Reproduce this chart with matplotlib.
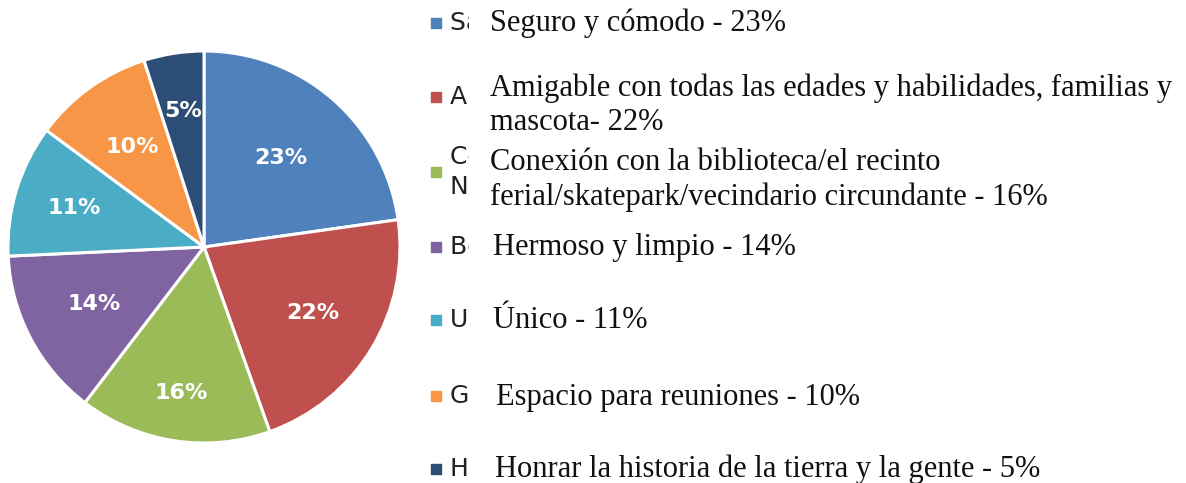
import numpy as np
import matplotlib
matplotlib.use("Agg")
import matplotlib.pyplot as plt
from matplotlib.patches import Rectangle

# データ
values = [23, 22, 16, 14, 11, 10, 5]
pct_labels = ["23%", "22%", "16%", "14%", "11%", "10%", "5%"]
colors = ["#4F81BD", "#C0504D", "#9BBB59", "#8064A2", "#4BACC6", "#F79646", "#2C4D75"]
# 元の英語ラベル（大部分が隠れている）
orig_labels = ["Safe and comfortable",
               "All ages and abilities",
               "Connection to library\nNeighborhood",
               "Beautiful and clean",
               "Unique",
               "Gathering space",
               "Honoring the history"]
# スペイン語ラベル
es_labels = ["Seguro y cómodo - 23%",
             "Amigable con todas las edades y habilidades, familias y\nmascota- 22%",
             "Conexión con la biblioteca/el recinto\nferial/skatepark/vecindario circundante - 16%",
             "Hermoso y limpio - 14%",
             "Único - 11%",
             "Espacio para reuniones - 10%",
             "Honrar la historia de la tierra y la gente - 5%"]

W, H = 1186, 483
fig = plt.figure(figsize=(W / 100, H / 100), dpi=100)

# 円グラフ
ax = fig.add_axes([8 / W, 39 / H, 392 / W, 394 / H])
wedges, _ = ax.pie(values, colors=colors, startangle=90, counterclock=False,
                   wedgeprops=dict(edgecolor="white", linewidth=2.2))
ax.set_xlim(-1, 1)
ax.set_ylim(-1, 1)
ax.set_aspect("equal")
ax.axis("off")

# ラベル位置（中心からの距離）
label_dist = [0.6, 0.65, 0.755, 0.63, 0.69, 0.63, 0.7]
for w, lab, d in zip(wedges, pct_labels, label_dist):
    ang = np.deg2rad((w.theta1 + w.theta2) / 2)
    ax.text(d * np.cos(ang), d * np.sin(ang), lab, ha="center", va="center",
            color="white", fontsize=16, fontweight="bold", family="DejaVu Sans")

# 凡例（ピクセル座標のオーバーレイ）
lx = fig.add_axes([0, 0, 1, 1])
lx.set_xlim(0, W)
lx.set_ylim(H, 0)
lx.axis("off")

row_y = [23, 97, 172, 247, 320, 396, 469]
es_y = [23, 105, 180, 247, 321, 397, 469]
es_x = [490, 490, 490, 493, 493, 496, 495]

lx.scatter([436] * len(row_y), row_y, marker="s", s=52, c=colors, zorder=1)
for y, lab in zip(row_y, orig_labels):
    lx.text(450, y, lab, ha="left", va="center", fontsize=18,
            family="DejaVu Sans", color="#222222", zorder=1, linespacing=1.3)
lx.add_patch(Rectangle((469, 0), W - 469, H, facecolor="white",
                       edgecolor="none", zorder=2))
for x, y, lab in zip(es_x, es_y, es_labels):
    lx.text(x, y, lab, ha="left", va="center", fontsize=22,
            family="Liberation Serif", color="#111111", zorder=3,
            linespacing=1.22)

fig.savefig("out.png", dpi=100, facecolor="white")
